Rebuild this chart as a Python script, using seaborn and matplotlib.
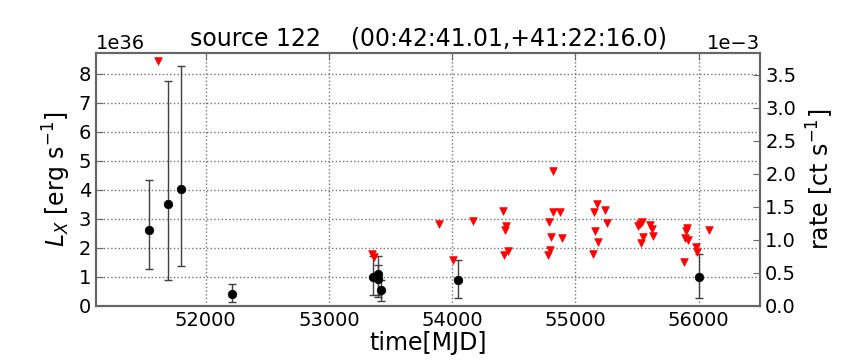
import numpy as np
import pandas as pd
import matplotlib
matplotlib.use("Agg")
import matplotlib.pyplot as plt
import seaborn as sns

# detections (luminosity in units of 1e36 erg/s)
det_mjd = [51537, 51692, 51800, 52216, 53360, 53395, 53400, 53420, 54049, 56000]
det_lx = [2.61, 3.50, 4.02, 0.41, 1.00, 1.08, 0.91, 0.53, 0.89, 0.99]
det_lo = [1.26, 0.89, 1.37, 0.12, 0.37, 0.35, 0.30, 0.15, 0.27, 0.27]
det_hi = [4.33, 7.75, 8.28, 0.74, 1.70, 1.70, 1.40, 0.90, 1.57, 1.78]

# upper limits
ul_mjd = [51613, 53347, 53366, 53891, 54172, 54010,
          54411, 54440, 54432, 54451, 54421,
          54819, 54819, 54878, 54789, 54805, 54890, 54797, 54778,
          55174, 55152, 55244, 55255, 55162, 55182, 55144,
          55541, 55520, 55509, 55609, 55620, 55552, 55631, 55534,
          55907, 55896, 55888, 55917, 56080, 55977, 55988, 55877]
ul_lx = [8.43, 1.77, 1.67, 2.80, 2.92, 1.58,
         3.25, 2.75, 2.61, 1.89, 1.75,
         4.65, 3.24, 3.22, 2.87, 2.37, 2.33, 1.93, 1.74,
         3.52, 3.24, 3.29, 2.86, 2.56, 2.20, 1.79,
         2.90, 2.80, 2.76, 2.78, 2.64, 2.38, 2.42, 2.17,
         2.68, 2.56, 2.35, 2.27, 2.62, 2.03, 1.86, 1.51]

scale = 1e36
det = pd.DataFrame({"mjd": det_mjd, "lx": np.array(det_lx) * scale})
ul = pd.DataFrame({"mjd": ul_mjd, "lx": np.array(ul_lx) * scale})
yerr = [np.array(det_lx) * scale - np.array(det_lo) * scale,
        np.array(det_hi) * scale - np.array(det_lx) * scale]

sns.set_style("white")
plt.rcParams["font.family"] = ["DejaVu Sans"]
plt.rcParams["xtick.direction"] = "in"
plt.rcParams["ytick.direction"] = "in"
for k in ["text.color", "axes.labelcolor", "xtick.labelcolor", "ytick.labelcolor"]:
    plt.rcParams[k] = "black"

fig = plt.figure(figsize=(8.64, 3.6), dpi=100)
ax = fig.add_axes([0.111, 0.151, 0.769, 0.702])

ax.errorbar(det["mjd"], det["lx"], yerr=yerr, fmt="none", ecolor="0.25",
            elinewidth=1, capsize=3, capthick=1, zorder=2)
sns.scatterplot(data=ul, x="mjd", y="lx", marker="v", color="red", s=30,
                edgecolor="red", linewidth=0.5, ax=ax, zorder=3)
sns.scatterplot(data=det, x="mjd", y="lx", marker="o", color="black", s=38,
                edgecolor="black", ax=ax, zorder=4)

ax.set_xlim(51110, 56500)
ax.set_ylim(0, 8.72e36)
ax.set_xticks([52000, 53000, 54000, 55000, 56000])
ax.set_yticks(np.arange(0, 9) * scale)
ax.grid(True, color="0.45", linestyle=":", linewidth=1)
ax.set_xlabel("time[MJD]", fontsize=17, labelpad=1)
ax.set_ylabel(r"$L_X$ [erg s$^{-1}$]", fontsize=17, labelpad=4)
ax.set_title("source 122    (00:42:41.01,+41:22:16.0)", fontsize=17, pad=5)
ax.tick_params(labelsize=14, length=5, color="0.4", top=True)
ax.yaxis.get_offset_text().set_fontsize(14)

ax2 = ax.twinx()
ax2.set_ylim(0, 3.83e-3)
ax2.set_yticks(np.arange(0, 3.51e-3, 0.5e-3))
ax2.ticklabel_format(axis="y", style="sci", scilimits=(0, 0))
ax2.set_ylabel(r"rate [ct s$^{-1}$]", fontsize=17, labelpad=6)
ax2.tick_params(labelsize=14, length=5, color="0.4", direction="in")
ax2.yaxis.get_offset_text().set_fontsize(14)

for a in (ax, ax2):
    for sp in a.spines.values():
        sp.set_color("0.4")
        sp.set_linewidth(1.5)

fig.savefig("out.png", dpi=100)
